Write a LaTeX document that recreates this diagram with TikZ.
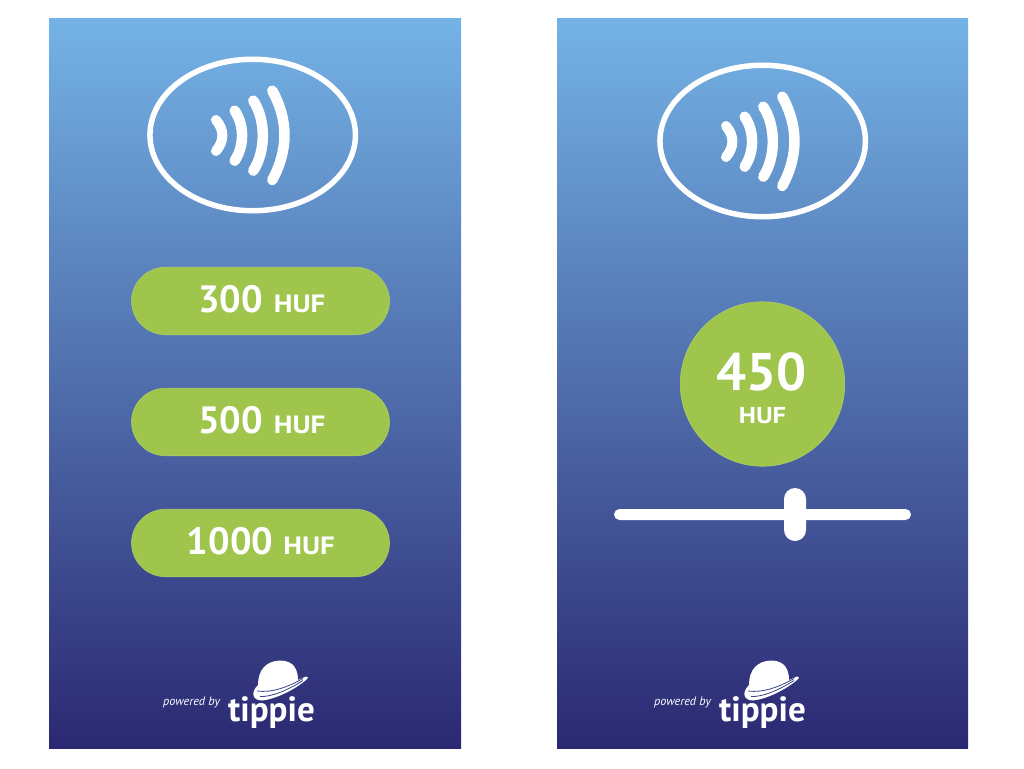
\documentclass[tikz,border=0pt]{standalone}
\usepackage{fontspec}
\usetikzlibrary{shapes.geometric}
\setmainfont{PT Sans}
\newfontfamily\widefont[FakeStretch=1.15]{PT Sans}
\definecolor{panelTop}{HTML}{74B3E6}
\definecolor{panelBot}{HTML}{2B2872}
\definecolor{pill}{HTML}{9FC54C}
\tikzset{
  panel/.style={draw=none,rectangle,minimum width=#1,minimum height=730.5pt,inner sep=0pt,top color=panelTop,bottom color=panelBot},
  pillbox/.style={rectangle,rounded corners=34pt,minimum width=258pt,minimum height=67.5pt,inner sep=0pt,fill=pill,draw=pill!85!white,line width=.6pt},
  amount/.style={anchor=base,text=white,inner sep=0pt,font=\fontsize{38}{38}\selectfont\bfseries},
  unit/.style={anchor=base,text=white,inner sep=0pt,font=\fontsize{25}{25}\widefont\bfseries},
  reader/.style={ellipse,draw=white,line width=5.5pt,minimum width=205.5pt,minimum height=151.5pt,inner sep=0pt},
  wave/.style={draw=white,line width=#1,line cap=round},
  wave/.default=10.5pt,
  logotext/.style={anchor=base,text=white,inner sep=0pt},
}
\newcommand{\waves}[2]{%
  \begin{scope}[shift={(#1,#2)}]
    \draw[wave=10pt] (216,120) .. controls (224.5,130) and (224.5,141) .. (216,151);
    \draw[wave] (234.7,110.7) .. controls (244.5,125) and (244.5,146) .. (234.7,160.7);
    \draw[wave] (253.3,100.7) .. controls (266,120) and (266,151) .. (253.3,170.7);
    \draw[wave] (272.3,90.7) .. controls (288.5,120) and (288.5,150) .. (272.3,180);
  \end{scope}}
\newcommand{\tippielogo}[1]{%
  \begin{scope}[shift={(#1,0)}]
    \fill[white] (258,685) .. controls (258,670) and (266,661) .. (280,660.5)
      .. controls (294,660.5) and (298,670) .. (298,680)
      -- (306,676.5) .. controls (309,677) and (308,679) .. (306,680)
      .. controls (294,690) and (276,699) .. (262,700.5)
      .. controls (253,700.5) and (250,693) .. (258,685) -- cycle;
    \draw[panelBot!80!panelTop,line width=.8pt] (257,691)
      .. controls (272,693) and (288,687) .. (303,678.5);
    \draw[panelBot!80!panelTop,line width=.8pt] (260,696.5)
      .. controls (272,697) and (288,690) .. (303,680.5);
  \end{scope}}
\begin{document}
\begin{tikzpicture}[x=1pt,y=-1pt]
\useasboundingbox (0,0) rectangle (1024,768);
\fill[white] (0,0) rectangle (1024,768);
\node[panel=412pt] (panelA) at (255,383.5) {};
\node[panel=411pt] (panelB) at (762.5,383.5) {};

\node[reader] (readerA) at (252.7,135) {};
\node[reader] (readerB) at (762.7,141) {};
\waves{0}{0}
\waves{510}{6}

\node[pillbox] (p300) at (260.5,301) {};
\node[pillbox] (p500) at (260.5,422) {};
\node[pillbox] (p1000) at (260.5,543) {};
\node[amount] (t300) at (230.5,312.5) {300};
\node[unit] (u300) at (299.5,312.5) {HUF};
\node[amount] (t500) at (230.5,433.5) {500};
\node[unit] (u500) at (299.5,433.5) {HUF};
\node[amount] (t1000) at (230,554.5) {1000};
\node[unit] (u1000) at (309,554.5) {HUF};

\node[circle,fill=pill,draw=pill!85!white,line width=.6pt,minimum size=164.5pt,inner sep=0pt] (amountCircle) at (762.5,384) {};
\node[anchor=base,text=white,inner sep=0pt,font=\fontsize{53}{53}\selectfont\bfseries] (t450) at (761.5,390.5) {450};
\node[anchor=base,text=white,inner sep=0pt,font=\fontsize{23}{23}\widefont\bfseries] (u450) at (762.5,423.5) {HUF};

\node[rectangle,rounded corners=5.5pt,fill=white,minimum width=297pt,minimum height=11pt,inner sep=0pt] (track) at (762.5,514.5) {};
\node[rectangle,rounded corners=11pt,fill=white,minimum width=22pt,minimum height=53pt,inner sep=0pt] (knob) at (795,514.5) {};

\tippielogo{0}
\tippielogo{491}
\node[logotext,font=\fontsize{12.2}{12.2}\selectfont\itshape] (pbA) at (191.5,705) {powered by};
\node[logotext,font=\fontsize{12.2}{12.2}\selectfont\itshape] (pbB) at (682.5,705) {powered by};
\node[logotext,font=\fontsize{35}{35}\selectfont\bfseries] (tipA) at (271.5,721.5) {tippie};
\node[logotext,font=\fontsize{35}{35}\selectfont\bfseries] (tipB) at (762.5,721.5) {tippie};
\end{tikzpicture}
\end{document}
